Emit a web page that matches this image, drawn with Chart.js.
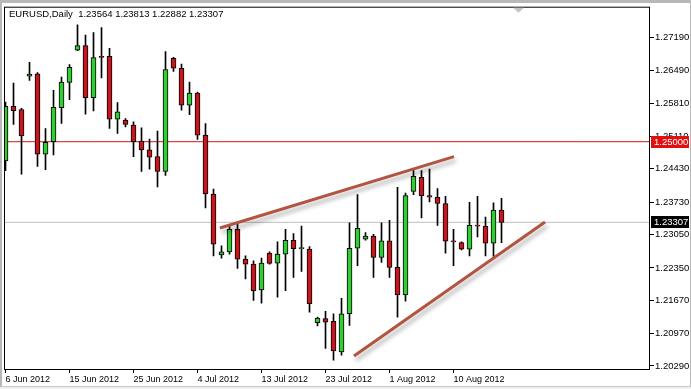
<!DOCTYPE html>
<html>
<head>
<meta charset="utf-8">
<script src="https://cdn.jsdelivr.net/npm/chart.js@4.4.0/dist/chart.umd.min.js"></script>
<style>
  html, body { margin: 0; padding: 0; background: #fff; }
  canvas { display: block; }
</style>
</head>
<body>
<canvas id="chart" width="691" height="389"></canvas>
<script>
// EURUSD daily candles, 6 Jun - 17 Aug 2012 (broker shows Sunday bars)
const dates = [
  '6 Jun 2012', '7 Jun 2012', '8 Jun 2012', '10 Jun 2012', '11 Jun 2012', '12 Jun 2012', '13 Jun 2012', '14 Jun 2012',
  '15 Jun 2012', '17 Jun 2012', '18 Jun 2012', '19 Jun 2012', '20 Jun 2012', '21 Jun 2012', '22 Jun 2012', '24 Jun 2012',
  '25 Jun 2012', '26 Jun 2012', '27 Jun 2012', '28 Jun 2012', '29 Jun 2012', '1 Jul 2012', '2 Jul 2012', '3 Jul 2012',
  '4 Jul 2012', '5 Jul 2012', '6 Jul 2012', '8 Jul 2012', '9 Jul 2012', '10 Jul 2012', '11 Jul 2012', '12 Jul 2012',
  '13 Jul 2012', '15 Jul 2012', '16 Jul 2012', '17 Jul 2012', '18 Jul 2012', '19 Jul 2012', '20 Jul 2012', '22 Jul 2012',
  '23 Jul 2012', '24 Jul 2012', '25 Jul 2012', '26 Jul 2012', '27 Jul 2012', '29 Jul 2012', '30 Jul 2012', '31 Jul 2012',
  '1 Aug 2012', '2 Aug 2012', '3 Aug 2012', '5 Aug 2012', '6 Aug 2012', '7 Aug 2012', '8 Aug 2012', '9 Aug 2012',
  '10 Aug 2012', '12 Aug 2012', '13 Aug 2012', '14 Aug 2012', '15 Aug 2012', '16 Aug 2012', '17 Aug 2012'
];
const opens = [
  1.24598, 1.25745, 1.25674, 1.26377, 1.26425, 1.24736, 1.25001, 1.25716,
  1.26246, 1.26925, 1.27017, 1.25924, 1.26794, 1.26794, 1.25474, 1.25453,
  1.25349, 1.25015, 1.24828, 1.24688, 1.24375, 1.26752, 1.26544, 1.25766,
  1.26022, 1.25140, 1.23902, 1.22624, 1.22686, 1.23160, 1.22534, 1.22430,
  1.21888, 1.22659, 1.22451, 1.22638, 1.22930, 1.22755, 1.22743, 1.21200,
  1.21283, 1.21227, 1.20587, 1.21387, 1.22763, 1.22951, 1.23020, 1.22568,
  1.22916, 1.22359, 1.21784, 1.23958, 1.24250, 1.23869, 1.23833, 1.23702,
  1.22909, 1.22880, 1.22743, 1.23243, 1.23228, 1.22868, 1.23564
];
const highs = [
  1.25835, 1.26231, 1.25700, 1.26669, 1.26450, 1.25278, 1.26079, 1.26356,
  1.26621, 1.27455, 1.27238, 1.27294, 1.27399, 1.26961, 1.25820, 1.25487,
  1.25418, 1.25293, 1.25057, 1.25224, 1.26892, 1.26773, 1.26633, 1.26252,
  1.26043, 1.25382, 1.24006, 1.22811, 1.23228, 1.23264, 1.22603, 1.22499,
  1.22555, 1.22686, 1.22895, 1.23160, 1.23068, 1.23228, 1.22797, 1.21317,
  1.21435, 1.21387, 1.21713, 1.23297, 1.23890, 1.23089, 1.23055, 1.23297,
  1.23347, 1.24042, 1.23923, 1.24411, 1.24396, 1.24423, 1.24015, 1.23854,
  1.23160, 1.22895, 1.23729, 1.23854, 1.23416, 1.23714, 1.23813
];
const lows = [
  1.24390, 1.25361, 1.24319, 1.26287, 1.24480, 1.24411, 1.24723, 1.25382,
  1.25883, 1.26913, 1.25578, 1.25647, 1.26341, 1.25278, 1.25174, 1.25313,
  1.24688, 1.24375, 1.24423, 1.24048, 1.24292, 1.26475, 1.25662, 1.25570,
  1.25049, 1.23610, 1.22603, 1.22555, 1.22638, 1.22338, 1.22117, 1.21665,
  1.21608, 1.22430, 1.21734, 1.21873, 1.22150, 1.22276, 1.21421, 1.21129,
  1.20658, 1.20414, 1.20518, 1.21143, 1.22394, 1.22930, 1.22150, 1.22463,
  1.22150, 1.21317, 1.21650, 1.23890, 1.23402, 1.23735, 1.23243, 1.22659,
  1.22394, 1.22728, 1.22603, 1.22999, 1.22603, 1.22589, 1.22882
];
const closes = [
  1.25745, 1.25653, 1.25120, 1.26419, 1.24736, 1.24986, 1.25724, 1.26252,
  1.26564, 1.27017, 1.25924, 1.26767, 1.26773, 1.25474, 1.25626, 1.25361,
  1.25001, 1.24828, 1.24673, 1.24375, 1.26517, 1.26544, 1.25766, 1.26022,
  1.25140, 1.23902, 1.22847, 1.22686, 1.23160, 1.22534, 1.22430, 1.21873,
  1.22451, 1.22443, 1.22638, 1.22930, 1.22755, 1.22775, 1.21596, 1.21296,
  1.21212, 1.20608, 1.21387, 1.22763, 1.23180, 1.23020, 1.22568, 1.22916,
  1.22359, 1.21784, 1.23869, 1.24271, 1.23869, 1.23833, 1.23702, 1.22909,
  1.22895, 1.22743, 1.23243, 1.23228, 1.22868, 1.23562, 1.23307
];

const priceTicks = [1.20290, 1.20970, 1.21670, 1.22350, 1.23050, 1.23730, 1.24430, 1.25110, 1.25810, 1.26490, 1.27190];
const dateTickStep = 8;
const levelPrice = 1.25000;
const bidPrice = 1.23307;
// hand drawn trend lines: [bar index, price]
const upperTrend = [[26.8, 1.23187], [56.06, 1.24688]];
const lowerTrend = [[43.56, 1.20497], [67.44, 1.23312]];

const xMin = -0.1875, xMax = 80.5625;
const yMin = 1.20226, yMax = 1.27836;

const FONT = '"Liberation Sans", Arial, sans-serif';
const UP = '#32CD32', DOWN = '#C8171C';

const bodies = opens.map((o, i) => ({ x: i, y: [o, closes[i]] }));
const wicks = lows.map((l, i) => ({ x: i, y: [l, highs[i]] }));
const bodyColors = opens.map((o, i) => closes[i] >= o ? UP : DOWN);
const toPts = arr => arr.map(p => ({ x: p[0], y: p[1] }));

const mt4Decor = {
    id: 'mt4Decor',
    beforeDraw(chart) {
        const { ctx, width, height } = chart;
        ctx.save();
        ctx.fillStyle = '#fff';
        ctx.fillRect(0, 0, width, height);
        ctx.fillStyle = '#b8b8b8';
        ctx.fillRect(0, 0, width, 3);
        ctx.fillRect(0, 0, 2, height);
        ctx.fillRect(width - 1, 0, 1, height);
        ctx.fillStyle = '#c8c8c8';
        ctx.fillRect(0, 386, width, 1);
        ctx.fillStyle = '#f0f0f0';
        ctx.fillRect(0, 387, width, 2);
        ctx.restore();
    },
    beforeDatasetDraw(chart, args) {
        if (args.meta._dataset.shadow) {
            const { ctx } = chart;
            ctx.save();
            ctx.shadowColor = 'rgba(0,0,0,0.3)';
            ctx.shadowBlur = 4;
            ctx.shadowOffsetX = 2;
            ctx.shadowOffsetY = 4;
        }
    },
    afterDatasetDraw(chart, args) {
        if (args.meta._dataset.shadow) chart.ctx.restore();
    },
    afterDraw(chart) {
        const { ctx, chartArea: { left, top, right, bottom } } = chart;
        const y = chart.scales.y;
        ctx.save();
        // frame
        ctx.strokeStyle = '#000';
        ctx.lineWidth = 1;
        ctx.strokeRect(left + 0.5, top + 0.5, right - left - 1, bottom - top);
        // chart shift marker
        ctx.fillStyle = '#c4c4c4';
        ctx.beginPath();
        ctx.moveTo(513, top + 1);
        ctx.lineTo(524, top + 1);
        ctx.lineTo(518.5, top + 6);
        ctx.closePath();
        ctx.fill();
        // title
        ctx.font = '9.5px ' + FONT;
        ctx.fillStyle = '#000';
        ctx.textBaseline = 'middle';
        ctx.textAlign = 'left';
        const last = opens.length - 1;
        const ohlc = [opens[last], highs[last], lows[last], closes[last]].map(v => v.toFixed(5)).join(' ');
        ctx.fillText('EURUSD,Daily  ' + ohlc, 9, 14);
        // price boxes on the axis
        const box = (price, bg) => {
            const py = Math.round(y.getPixelForValue(price));
            ctx.fillStyle = bg;
            ctx.fillRect(right + 1, py - 6, 38, 12);
            ctx.fillStyle = '#fff';
            ctx.fillText(price.toFixed(5), right + 4, py + 0.5);
        };
        box(levelPrice, '#E01010');
        box(bidPrice, '#000');
        ctx.restore();
    }
};

const hLine = price => [{ x: xMin, y: price }, { x: xMax, y: price }];

new Chart(document.getElementById('chart'), {
    type: 'bar',
    data: {
        datasets: [
            { type: 'line', data: hLine(levelPrice), borderColor: '#D01818', borderWidth: 1, pointRadius: 0, order: 6, clip: 0 },
            { type: 'line', data: hLine(bidPrice), borderColor: '#BEBEBE', borderWidth: 1, pointRadius: 0, order: 5, clip: 0 },
            { data: wicks, backgroundColor: '#000', borderWidth: 0, barThickness: 1, grouped: false, order: 3, clip: 0 },
            { data: bodies, backgroundColor: bodyColors, borderColor: '#000', borderWidth: 1, borderSkipped: false,
              barThickness: 5, minBarLength: 1, grouped: false, order: 2, clip: 0 },
            { type: 'line', data: toPts(upperTrend), borderColor: 'rgb(178,84,64)', borderWidth: 3, pointRadius: 0,
              order: 1, clip: 0, shadow: true },
            { type: 'line', data: toPts(lowerTrend), borderColor: 'rgb(178,84,64)', borderWidth: 3, pointRadius: 0,
              order: 0, clip: 0, shadow: true }
        ]
    },
    options: {
        responsive: false,
        animation: false,
        events: [],
        layout: { padding: { top: 4, left: 4, right: 0, bottom: 0 } },
        plugins: { legend: { display: false }, tooltip: { enabled: false }, title: { display: false } },
        scales: {
            x: {
                type: 'linear',
                min: xMin,
                max: xMax,
                offset: false,
                border: { display: false },
                grid: { offset: false, drawOnChartArea: false, drawTicks: true, tickLength: 4, color: '#000' },
                afterBuildTicks(scale) {
                    scale.ticks = dates.map((d, i) => i).filter(i => i % dateTickStep === 0).map(v => ({ value: v }));
                },
                afterFit(scale) { scale.height = 20; },
                ticks: {
                    autoSkip: false,
                    maxRotation: 0,
                    align: 'start',
                    padding: 1,
                    color: '#000',
                    font: { family: FONT, size: 9 },
                    callback: v => dates[v]
                }
            },
            y: {
                position: 'right',
                min: yMin,
                max: yMax,
                beginAtZero: false,
                border: { display: false },
                grid: { drawOnChartArea: false, drawTicks: true, tickLength: 4, color: '#000' },
                afterBuildTicks(scale) {
                    scale.ticks = priceTicks.map(v => ({ value: v }));
                },
                afterFit(scale) { scale.width = 41; },
                ticks: {
                    padding: 1,
                    color: '#000',
                    font: { family: FONT, size: 9.5 },
                    callback: v => v.toFixed(5)
                }
            }
        }
    },
    plugins: [mt4Decor]
});
</script>
</body>
</html>
